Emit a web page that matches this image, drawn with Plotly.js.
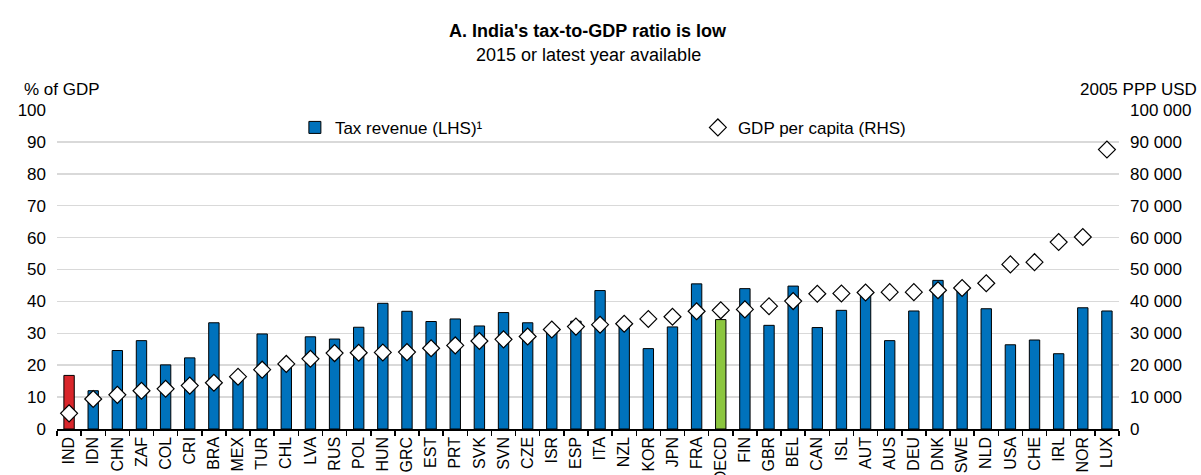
<!DOCTYPE html>
<html><head><meta charset="utf-8">
<script src="https://cdn.plot.ly/plotly-3.0.1.min.js"></script>
<style>body{margin:0;background:#fff}#chart{width:1201px;height:475px}</style>
</head><body><div id="chart"></div>
<script>
const countries = ["IND","IDN","CHN","ZAF","COL","CRI","BRA","MEX","TUR","CHL","LVA","RUS","POL","HUN","GRC","EST","PRT","SVK","SVN","CZE","ISR","ESP","ITA","NZL","KOR","JPN","FRA","OECD","FIN","GBR","BEL","CAN","ISL","AUT","AUS","DEU","DNK","SWE","NLD","USA","CHE","IRL","NOR","LUX"];
const taxRevenue = [16.8,12.0,24.6,27.7,20.1,22.3,33.3,16.2,29.8,20.5,28.9,28.2,31.9,39.4,36.9,33.7,34.5,32.3,36.5,33.3,31.0,33.8,43.4,32.5,25.2,32.0,45.5,34.3,44.0,32.5,44.8,31.8,37.2,42.5,27.7,37.0,46.6,44.5,37.7,26.4,27.9,23.6,38.0,37.0];
const gdpPerCapita = [4900,9400,10700,12000,12600,13600,14500,16400,18600,20400,22000,23800,23900,24000,24100,25300,26200,27600,28100,29000,31200,32100,32700,33000,34500,35200,36900,37200,37500,38500,40100,42400,42500,42800,42900,42900,43500,44200,45700,51600,52300,58600,60200,87600];
const highlighted = ["IND","OECD"];

const FONT = "'Liberation Sans',Arial,sans-serif";
const BLUE = "#0072BC";
const hiColors = {IND:"#D9262B", OECD:"#8CC63F"};

const regularY = taxRevenue.map((v,i) => highlighted.includes(countries[i]) ? null : v);
const hiY = taxRevenue.map((v,i) => highlighted.includes(countries[i]) ? v : null);
const hiCol = countries.map(c => hiColors[c] || BLUE);

const traces = [
  {type:"bar", x:countries, y:regularY, name:"Tax revenue (LHS)¹", width:0.43,
   marker:{color:BLUE, line:{color:"#000", width:1}}, yaxis:"y"},
  {type:"bar", x:countries, y:hiY, showlegend:false, width:0.43,
   marker:{color:hiCol, line:{color:"#000", width:1}}, yaxis:"y"},
  {type:"scatter", mode:"markers", x:countries, y:gdpPerCapita, name:"GDP per capita (RHS)", yaxis:"y2",
   marker:{symbol:"diamond", size:13, color:"#fff", line:{color:"#000", width:1.2}}}
];

const layout = {
  width:1201, height:475,
  margin:{l:57, r:82, t:110, b:46},
  paper_bgcolor:"#fff", plot_bgcolor:"#fff",
  font:{family:FONT, size:17, color:"#000"},
  separators:". ",
  showlegend:true,
  barmode:"overlay",
  legend:{orientation:"h", x:0.224, y:0.944, xanchor:"left", yanchor:"middle",
          font:{family:FONT, size:17}, entrywidth:358, entrywidthmode:"pixels",
          bgcolor:"rgba(0,0,0,0)", itemclick:false, tracegroupgap:0},
  xaxis:{type:"category", tickangle:-90, ticks:"outside", tickson:"boundaries", ticklen:5,
         tickcolor:"#000", tickwidth:1.5, showline:true, linecolor:"#000", linewidth:1.5,
         showgrid:false, tickfont:{family:FONT, size:16}, range:[-0.5,43.5]},
  yaxis:{range:[0,100], dtick:10, showgrid:true, gridcolor:"#D9D9D9", gridwidth:1.5,
         zeroline:false, showline:false, ticks:"", ticklabelstandoff:10, tickfont:{family:FONT, size:17}},
  yaxis2:{range:[0,100000], dtick:10000, overlaying:"y", side:"right", showgrid:false,
          zeroline:false, showline:false, ticks:"", ticklabelstandoff:10, tickformat:",d", tickfont:{family:FONT, size:17}},
  annotations:[
    {text:"<b>A. India's tax-to-GDP ratio is low</b>", xref:"paper", yref:"paper", x:0.5, y:1, yshift:79,
     showarrow:false, xanchor:"center", yanchor:"middle", font:{family:FONT, size:18}},
    {text:"2015 or latest year available", xref:"paper", yref:"paper", x:0.5, y:1, yshift:55,
     showarrow:false, xanchor:"center", yanchor:"middle", font:{family:FONT, size:18}},
    {text:"% of GDP", xref:"paper", yref:"paper", x:0, xshift:-35, y:1, yshift:21,
     showarrow:false, xanchor:"left", yanchor:"middle", font:{family:FONT, size:17}},
    {text:"2005 PPP USD", xref:"paper", yref:"paper", x:1, xshift:80, y:1, yshift:21,
     showarrow:false, xanchor:"right", yanchor:"middle", font:{family:FONT, size:17}}
  ]
};

Plotly.newPlot("chart", traces, layout, {displayModeBar:false, staticPlot:true});
</script>
</body></html>
